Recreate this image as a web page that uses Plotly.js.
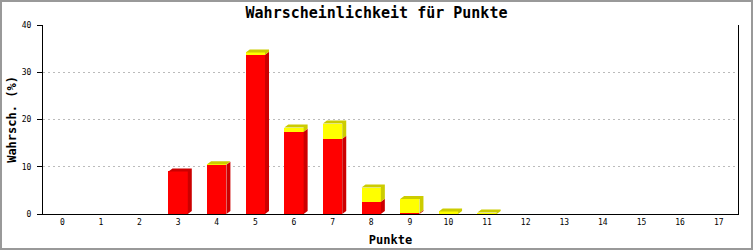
<!DOCTYPE html>
<html>
<head>
<meta charset="utf-8">
<script src="https://cdn.plot.ly/plotly-3.0.1.min.js"></script>
<style>
  html, body { margin: 0; padding: 0; background: #fff; }
  #wrap { position: relative; width: 753px; height: 250px; }
  #chart { width: 753px; height: 250px; }
  #frame { position: absolute; left: 0; top: 0; width: 753px; height: 250px;
           box-sizing: border-box; border: 2px solid #999; pointer-events: none; }
</style>
</head>
<body>
<div id="wrap"><div id="chart"></div><div id="frame"></div></div>
<script>
// ---- data ----
const categories = [0,1,2,3,4,5,6,7,8,9,10,11,12,13,14,15,16,17];
const tickLabels = ["0","1","2","3","4","5","6","7","8","9","10","11","12","13","14","15","16","17"];
const redValues    = [0,0,0,9.0,10.4,33.7,17.4,15.9,2.6,0.2,0,0,0,0,0,0,0,0];
const yellowValues = [0,0,0,0,0.15,0.5,0.9,3.25,3.0,3.0,0.55,0.3,0,0,0,0,0,0];
const chartTitle = "Wahrscheinlichkeit für Punkte";
const xTitle = "Punkte";
const yTitle = "Wahrsch. (%)";

// ---- geometry / style ----
const W = 753, H = 250;
const margin = {l: 43, r: 15, t: 25, b: 36};
const xRange = [-0.5, 17.5], yRange = [0, 40];
const barWidth = 0.5;
const depthPx = {x: 4, y: 3};
const plotW = W - margin.l - margin.r, plotH = H - margin.t - margin.b;
const dx = depthPx.x * (xRange[1] - xRange[0]) / plotW;
const dy = depthPx.y * (yRange[1] - yRange[0]) / plotH;

const RED = "#ff0000", DRED = "#cc0000", YEL = "#ffff00", DYEL = "#cccc00";
const FONT = "DejaVu Sans Mono, Liberation Mono, monospace";

// build 3D side/top faces from data
const dr = {x: [], y: []}, dyl = {x: [], y: []};
function poly(t, pts) { pts.forEach(p => { t.x.push(p[0]); t.y.push(p[1]); }); t.x.push(null); t.y.push(null); }
categories.forEach((c, i) => {
  const r = redValues[i], yv = yellowValues[i], tot = r + yv;
  if (tot <= 0) return;
  const xl = c - barWidth / 2, xr = c + barWidth / 2;
  if (r > 0) poly(dr, [[xr, 0], [xr + dx, dy], [xr + dx, r + dy], [xr, r]]);
  if (yv > 0) poly(dyl, [[xr, r], [xr + dx, r + dy], [xr + dx, tot + dy], [xr, tot]]);
  const cap = [[xl, tot], [xl + dx, tot + dy], [xr + dx, tot + dy], [xr, tot]];
  poly(yv > 0 ? dyl : dr, cap);
});

const traces = [
  {type: "bar", x: categories, y: redValues, width: barWidth, marker: {color: RED, line: {width: 0}}, hoverinfo: "skip"},
  {type: "bar", x: categories, y: yellowValues, width: barWidth, marker: {color: YEL, line: {width: 0}}, hoverinfo: "skip"},
  {type: "scatter", mode: "lines", x: dr.x, y: dr.y, fill: "toself", fillcolor: DRED, line: {width: 0, color: DRED}, hoverinfo: "skip"},
  {type: "scatter", mode: "lines", x: dyl.x, y: dyl.y, fill: "toself", fillcolor: DYEL, line: {width: 0, color: DYEL}, hoverinfo: "skip"}
];

const layout = {
  width: W, height: H,
  margin: margin,
  paper_bgcolor: "#fff", plot_bgcolor: "#fff",
  showlegend: false,
  barmode: "stack",
  bargap: 0,
  font: {family: FONT, color: "#000", size: 8},
  title: {text: chartTitle, font: {family: FONT, size: 15, weight: "bold", color: "#000"},
          x: 0.5, xref: "container", y: 1 - 13 / H, yref: "container", yanchor: "middle"},
  xaxis: {
    range: xRange, tickvals: categories, ticktext: tickLabels,
    showgrid: false, zeroline: false, showline: true, linecolor: "#000", linewidth: 1,
    ticks: "", tickfont: {family: FONT, size: 8, color: "#000"},
    title: {text: xTitle, font: {family: FONT, size: 12, weight: "bold", color: "#000"}, standoff: 10},
    fixedrange: true
  },
  yaxis: {
    range: yRange, dtick: 10, tick0: 0,
    showgrid: true, gridcolor: "#bbbbbb", griddash: "2px,3px", gridwidth: 1,
    zeroline: false, showline: true, mirror: true, linecolor: "#000", linewidth: 1,
    ticks: "outside", ticklen: 5, tickcolor: "#000", tickwidth: 1,
    ticklabelstandoff: 4,
    tickfont: {family: FONT, size: 8, color: "#000"},
    title: {text: yTitle, font: {family: FONT, size: 12, weight: "bold", color: "#000"}, standoff: 2},
    fixedrange: true
  }
};

Plotly.newPlot("chart", traces, layout, {staticPlot: true, displayModeBar: false});
</script>
</body>
</html>
